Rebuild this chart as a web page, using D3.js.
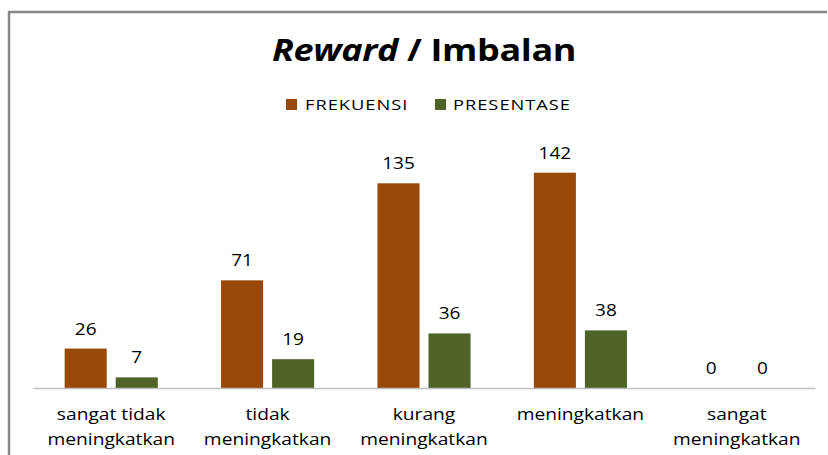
<!DOCTYPE html>
<html><head><meta charset="utf-8">
<script src="https://cdn.jsdelivr.net/npm/d3@7"></script>
<style>body{margin:0;background:#fff}svg{display:block}</style>
</head><body>
<script>
const categories = [["sangat tidak","meningkatkan"],["tidak","meningkatkan"],["kurang","meningkatkan"],["meningkatkan"],["sangat","meningkatkan"]];
const seriesNames = ["FREKUENSI","PRESENTASE"];
const frekuensi = [26,71,135,142,0];
const presentase = [7,19,36,38,0];
const colors = ["#984807","#4F6228"];

const W=828,H=455;
const svg=d3.select("body").append("svg").attr("width",W).attr("height",H);
const font="'Open Sans', sans-serif";

// stretched text helper
function stext(parent,x,y,sx,anchor){
  return parent.append("g").attr("transform",`translate(${x},${y}) scale(${sx},1)`)
    .append("text").attr("text-anchor",anchor||"middle").attr("font-family",font).attr("fill","#000");
}

// frame
svg.append("path").attr("d","M9,455 V12 H827").attr("fill","none").attr("stroke","#878787").attr("stroke-width",2.5);

// title
const t=stext(svg,424,61,1.2).attr("font-size",30).attr("font-weight","bold").attr("letter-spacing",-0.3);
t.append("tspan").attr("font-style","italic").text("Reward");
t.append("tspan").text(" / Imbalan");

const x0=d3.scaleBand().domain(d3.range(categories.length)).range([33,815]);
const x1=d3.scaleBand().domain(d3.range(2)).range([0,x0.bandwidth()]).paddingInner(0.176).paddingOuter(0.62);
const y=d3.scaleLinear().domain([0,160]).range([388,145.4]);

const data=[frekuensi,presentase];
data.forEach((vals,s)=>{
  const g=svg.append("g");
  g.selectAll("rect").data(vals).join("rect")
    .attr("x",(d,i)=>x0(i)+x1(s)).attr("width",x1.bandwidth())
    .attr("y",d=>y(d)).attr("height",d=>y(0)-y(d)).attr("fill",colors[s]);
  vals.forEach((d,i)=>{
    stext(svg,x0(i)+x1(s)+x1.bandwidth()/2,y(d)-14,1.12).attr("font-size",17).text(d);
  });
});

// axis
svg.append("g").attr("transform","translate(0,388)").call(d3.axisBottom(x0).tickSize(0).tickFormat(""))
  .call(g=>g.select(".domain").attr("stroke","#bfbfbf").attr("stroke-width",1.5));

categories.forEach((c,i)=>{
  const tx=stext(svg,x0(i)+x0.bandwidth()/2,420,1.13).attr("font-size",17);
  c.forEach((l,j)=>tx.append("tspan").attr("x",0).attr("dy",j?25:0).text(l));
});

// legend
const leg=[{x:286,tx:305},{x:435,tx:453}];
seriesNames.forEach((n,i)=>{
  svg.append("rect").attr("x",leg[i].x).attr("y",99).attr("width",11).attr("height",11).attr("fill",colors[i]);
  stext(svg,leg[i].tx,110,1.22,"start").attr("font-size",15).attr("letter-spacing",0.8).text(n);
});
</script>
</body></html>
